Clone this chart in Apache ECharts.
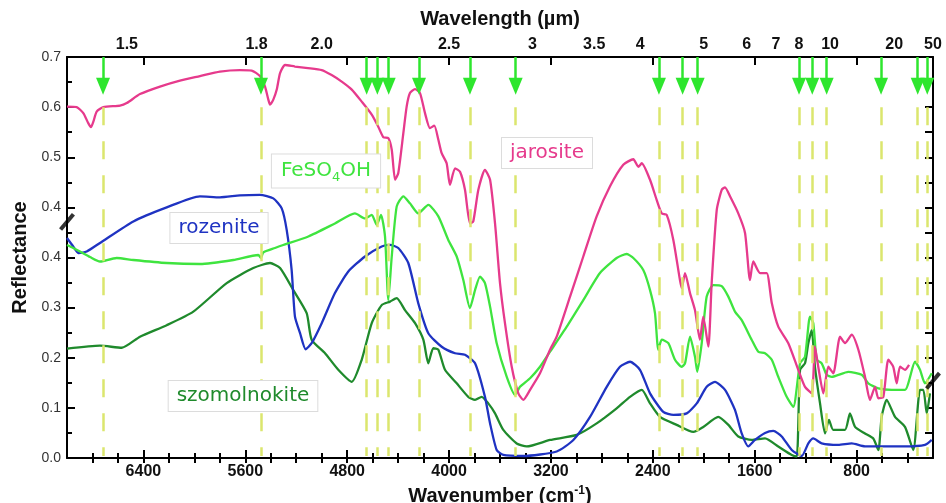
<!DOCTYPE html>
<html>
<head>
<meta charset="utf-8">
<title>Reflectance spectra of iron sulfates</title>
<script src="https://cdn.jsdelivr.net/npm/echarts@6/dist/echarts.min.js"></script>
<style>
  html, body { margin: 0; padding: 0; background: #fff; }
  #chart { width: 946px; height: 503px; }
</style>
</head>
<body>
<div id="chart"></div>
<script>
// ---- Spectra: [wavenumber (cm-1), reflectance in plot units] ----
// Plot units run 0..0.8; the part above the axis break is labelled 0.1 lower.
const jarosite = [
  [7000,0.701],[6924,0.700],[6872,0.688],[6833,0.668],[6812,0.660],[6793,0.671],[6767,0.691],
  [6715,0.700],[6584,0.703],[6531,0.708],[6427,0.726],[6270,0.741],[6113,0.753],[5956,0.762],
  [5799,0.771],[5642,0.774],[5550,0.773],[5485,0.762],[5445,0.741],[5419,0.715],[5406,0.705],
  [5380,0.715],[5353,0.735],[5327,0.768],[5288,0.784],[5210,0.781],[5108,0.778],[5000,0.774],
  [4922,0.764],[4843,0.751],[4764,0.735],[4686,0.711],[4607,0.685],[4556,0.661],[4516,0.640],
  [4477,0.638],[4450,0.615],[4424,0.555],[4399,0.568],[4359,0.648],[4333,0.701],[4307,0.728],
  [4267,0.736],[4228,0.728],[4189,0.688],[4150,0.658],[4116,0.663],[4084,0.635],[4058,0.608],
  [4019,0.588],[3993,0.545],[3953,0.578],[3914,0.571],[3875,0.535],[3836,0.468],[3810,0.472],
  [3770,0.535],[3718,0.575],[3678,0.555],[3639,0.468],[3600,0.349],[3561,0.269],[3508,0.182],
  [3456,0.129],[3417,0.116],[3364,0.136],[3286,0.169],[3207,0.216],[3155,0.242],[3050,0.322],
  [2946,0.402],[2841,0.482],[2736,0.542],[2632,0.585],[2553,0.596],[2514,0.581],[2487,0.588],
  [2422,0.555],[2370,0.515],[2330,0.488],[2291,0.485],[2239,0.435],[2187,0.355],[2173,0.339],
  [2147,0.369],[2108,0.329],[2069,0.295],[2030,0.236],[2004,0.282],[1964,0.222],[1938,0.349],
  [1898,0.495],[1859,0.535],[1833,0.540],[1794,0.522],[1729,0.488],[1676,0.449],[1637,0.355],
  [1611,0.392],[1558,0.369],[1506,0.369],[1466,0.309],[1415,0.262],[1336,0.229],[1258,0.176],
  [1205,0.142],[1152,0.129],[1127,0.222],[1101,0.182],[1061,0.129],[1022,0.182],[983,0.169],
  [930,0.242],[891,0.229],[838,0.246],[786,0.216],[734,0.162],[695,0.116],[655,0.142],
  [629,0.119],[590,0.122],[551,0.196],[512,0.182],[485,0.149],[459,0.182],[420,0.176],[388,0.186]
];

const feso4oh = [
  [7000,0.425],[6951,0.419],[6898,0.412],[6819,0.401],[6741,0.392],[6715,0.393],[6610,0.399],
  [6479,0.395],[6217,0.389],[5956,0.387],[5694,0.395],[5498,0.405],[5477,0.399],[5459,0.410],
  [5367,0.419],[5302,0.425],[5105,0.442],[4896,0.468],[4739,0.488],[4660,0.478],[4607,0.485],
  [4568,0.465],[4534,0.485],[4503,0.442],[4477,0.315],[4450,0.402],[4411,0.502],[4359,0.522],
  [4307,0.508],[4242,0.488],[4163,0.505],[4084,0.482],[4006,0.435],[3940,0.402],[3888,0.355],
  [3836,0.299],[3796,0.335],[3757,0.362],[3718,0.349],[3678,0.302],[3626,0.229],[3547,0.162],
  [3482,0.126],[3443,0.142],[3364,0.159],[3286,0.182],[3207,0.212],[3076,0.262],[2946,0.315],
  [2815,0.369],[2684,0.399],[2605,0.407],[2553,0.399],[2475,0.375],[2422,0.335],[2383,0.289],
  [2357,0.216],[2330,0.236],[2278,0.229],[2226,0.196],[2173,0.182],[2147,0.189],[2108,0.242],
  [2069,0.202],[2051,0.172],[2016,0.229],[1977,0.322],[1925,0.345],[1859,0.343],[1807,0.322],
  [1755,0.292],[1702,0.275],[1624,0.236],[1572,0.212],[1519,0.209],[1466,0.196],[1415,0.162],
  [1349,0.122],[1297,0.102],[1244,0.189],[1205,0.202],[1166,0.282],[1140,0.269],[1113,0.196],
  [1074,0.189],[1035,0.166],[995,0.162],[865,0.172],[760,0.166],[708,0.149],[629,0.139],
  [524,0.136],[420,0.136],[341,0.192],[302,0.176],[263,0.149],[210,0.169]
];

const rozenite = [
  [7000,0.439],[6951,0.422],[6911,0.409],[6845,0.412],[6741,0.429],[6479,0.472],[6217,0.500],
  [5956,0.522],[5799,0.520],[5642,0.524],[5485,0.525],[5380,0.518],[5314,0.498],[5275,0.455],
  [5236,0.375],[5210,0.282],[5170,0.249],[5126,0.217],[5079,0.229],[5000,0.269],[4896,0.329],
  [4791,0.372],[4660,0.402],[4529,0.422],[4464,0.425],[4399,0.419],[4320,0.389],[4242,0.309],
  [4163,0.249],[4058,0.222],[3953,0.209],[3875,0.206],[3796,0.189],[3718,0.122],[3678,0.069],
  [3626,0.016],[3574,0.006],[3417,0.004],[3155,0.013],[3024,0.036],[2893,0.082],[2762,0.142],
  [2658,0.182],[2579,0.192],[2501,0.176],[2422,0.129],[2318,0.092],[2239,0.086],[2134,0.089],
  [2055,0.109],[1977,0.142],[1912,0.152],[1833,0.136],[1755,0.096],[1702,0.049],[1650,0.023],
  [1598,0.036],[1519,0.050],[1454,0.054],[1388,0.043],[1309,0.016],[1231,0.004],[1179,0.029],
  [1140,0.039],[1074,0.029],[944,0.026],[838,0.029],[734,0.023],[577,0.023],[420,0.023],
  [263,0.026],[210,0.036]
];

const szomolnokite = [
  [7000,0.218],[6741,0.224],[6570,0.220],[6427,0.242],[6217,0.265],[6008,0.292],[5746,0.349],
  [5537,0.379],[5406,0.389],[5327,0.379],[5223,0.335],[5118,0.289],[5079,0.236],[4974,0.209],
  [4870,0.176],[4764,0.152],[4686,0.196],[4607,0.269],[4529,0.305],[4464,0.312],[4411,0.319],
  [4346,0.295],[4267,0.269],[4202,0.236],[4163,0.189],[4124,0.219],[4084,0.216],[4032,0.176],
  [3940,0.149],[3849,0.122],[3796,0.116],[3744,0.122],[3692,0.109],[3639,0.089],[3574,0.056],
  [3469,0.029],[3390,0.023],[3207,0.036],[2998,0.046],[2841,0.069],[2684,0.099],[2579,0.122],
  [2487,0.136],[2422,0.109],[2344,0.082],[2213,0.066],[2082,0.052],[2004,0.062],[1886,0.082],
  [1807,0.066],[1729,0.043],[1624,0.036],[1519,0.039],[1415,0.023],[1309,0.006],[1270,0.003],
  [1244,0.176],[1205,0.189],[1179,0.229],[1152,0.255],[1127,0.182],[1087,0.109],[1048,0.049],
  [1017,0.076],[983,0.056],[891,0.056],[852,0.089],[812,0.062],[734,0.049],[669,0.039],
  [629,0.016],[603,0.082],[564,0.116],[498,0.082],[420,0.062],[355,0.016],[302,0.136],
  [276,0.136],[249,0.089],[224,0.129]
];

// Absorption band positions (cm-1) marked by arrows and dashed guides
const bandWavenumbers = [6717, 5477, 4647, 4563, 4474, 4236, 3836, 3477, 2352, 2166, 2048,
                         1252, 1148, 1035, 608, 320, 245];

// Axis ticks and labels
const wavenumberLabels = [6400, 5600, 4800, 4000, 3200, 2400, 1600, 800];
const wavelengthLabels = ['1.5','1.8','2.0','2.5','3','3.5','4','5','6','7','8','10','20','50'];
const wavelengthLabelPos = [6530, 5512, 5000, 4000, 3345, 2860, 2500, 2000, 1662, 1433, 1252, 1008, 505, 200];
const yTickLabels = ['0.0','0.1','0.2','0.3','0.4','0.4','0.5','0.6','0.7'];
// Axis-break markers: [wavenumber, plot value]
const breakMarks = [[7000, 0.471], [200, 0.154]];

const X_MIN = 200, X_MAX = 7000, Y_MAX = 0.8;
const minorX = [];
for (let w = 400; w < X_MAX; w += 200) minorX.push(w);

const AXIS_FONT = '"Liberation Sans", Arial, sans-serif';
const NOTE_FONT = '"DejaVu Sans", Verdana, sans-serif';

const COLORS = {
  jarosite: '#e63a8c',
  feso4oh: '#3fe43f',
  rozenite: '#1f33c2',
  szomolnokite: '#1f8a2c',
  arrow: '#2ee62e',
  guide: '#dbe66e'
};

const chart = echarts.init(document.getElementById('chart'), null, { renderer: 'canvas' });

function xAxisBase(extra) {
  return Object.assign({
    type: 'value', min: X_MIN, max: X_MAX, inverse: true,
    splitLine: { show: false },
    axisLine: { show: true, onZero: false, lineStyle: { color: '#000', width: 2 } }
  }, extra);
}

function curve(name, data, color) {
  return {
    name, type: 'line', data, xAxisIndex: 0, yAxisIndex: 0,
    showSymbol: false, smooth: 0.2, z: 3,
    lineStyle: { color, width: 2.3 }, itemStyle: { color },
    emphasis: { disabled: true }, silent: true
  };
}

function noteBox(text, x, y, color) {
  return {
    type: 'text', x, y, z: 20, silent: true,
    style: {
      text, align: 'center', verticalAlign: 'middle',
      fontFamily: NOTE_FONT, fontSize: 20, fill: color,
      backgroundColor: '#fff', borderColor: '#dcdcdc', borderWidth: 1, padding: [5, 8]
    }
  };
}

const option = {
  animation: false,
  backgroundColor: '#fff',
  grid: { left: 67, right: 13, top: 57, bottom: 45, containLabel: false, outerBoundsMode: 'none' },
  xAxis: [
    // bottom: wavenumber labels with long ticks
    xAxisBase({
      position: 'bottom',
      name: 'Wavenumber (cm{sup|-1})',
      nameLocation: 'middle', nameGap: 24,
      nameTextStyle: {
        fontFamily: AXIS_FONT, fontWeight: 'bold', fontSize: 20, color: '#111',
        rich: { sup: { fontFamily: AXIS_FONT, fontWeight: 'bold', fontSize: 12, verticalAlign: 'top', lineHeight: 24, color: '#111' } }
      },
      axisTick: { show: true, inside: true, length: 8, customValues: wavenumberLabels, lineStyle: { color: '#000', width: 2 } },
      axisLabel: {
        customValues: wavenumberLabels, margin: 6,
        fontFamily: AXIS_FONT, fontWeight: 'bold', fontSize: 16, color: '#111',
        formatter: v => String(Math.round(v))
      }
    }),
    // bottom: minor ticks every 200 cm-1
    xAxisBase({
      position: 'bottom',
      axisLine: { show: false },
      axisTick: { show: true, inside: true, length: 5, customValues: minorX, lineStyle: { color: '#000', width: 2 } },
      axisLabel: { show: false }
    }),
    // top: wavelength labels
    xAxisBase({
      position: 'top',
      name: 'Wavelength (µm)',
      nameLocation: 'middle', nameGap: 28,
      nameTextStyle: { fontFamily: AXIS_FONT, fontWeight: 'bold', fontSize: 20, color: '#111' },
      axisTick: { show: true, inside: true, length: 8, customValues: wavenumberLabels, lineStyle: { color: '#000', width: 2 } },
      axisLabel: {
        customValues: wavelengthLabelPos, margin: 4,
        fontFamily: AXIS_FONT, fontWeight: 'bold', fontSize: 16, color: '#111',
        formatter: v => wavelengthLabels[wavelengthLabelPos.indexOf(v)]
      }
    }),
    // top: minor ticks
    xAxisBase({
      position: 'top',
      axisLine: { show: false },
      axisTick: { show: true, inside: true, length: 5, customValues: minorX, lineStyle: { color: '#000', width: 2 } },
      axisLabel: { show: false }
    })
  ],
  yAxis: [
    {
      type: 'value', min: 0, max: Y_MAX, interval: 0.1, position: 'left',
      name: 'Reflectance', nameLocation: 'middle', nameGap: 36, nameRotate: 90,
      nameTextStyle: { fontFamily: AXIS_FONT, fontWeight: 'bold', fontSize: 20, color: '#111' },
      splitLine: { show: false },
      axisLine: { show: true, onZero: false, lineStyle: { color: '#000', width: 2 } },
      axisTick: { show: true, inside: true, length: 8, lineStyle: { color: '#000', width: 2 } },
      minorTick: { show: true, splitNumber: 2, length: 5, lineStyle: { color: '#000', width: 2 } },
      axisLabel: {
        margin: 6, fontFamily: AXIS_FONT, fontSize: 14, color: '#333',
        showMinLabel: true, showMaxLabel: true,
        formatter: v => yTickLabels[Math.round(v * 10)]
      }
    },
    {
      type: 'value', min: 0, max: Y_MAX, interval: 0.05, position: 'right',
      splitLine: { show: false },
      axisLine: { show: true, onZero: false, lineStyle: { color: '#000', width: 2 } },
      axisTick: { show: true, inside: true, length: 8, lineStyle: { color: '#000', width: 2 } },
      axisLabel: { show: false }
    }
  ],
  series: [
    {
      name: 'guides', type: 'line', data: [], xAxisIndex: 0, yAxisIndex: 0, z: 1, silent: true,
      markLine: {
        silent: true, symbol: ['none', 'none'], animation: false,
        label: { show: false }, emphasis: { disabled: true },
        lineStyle: { color: COLORS.guide, width: 2.5, type: [18, 16] },
        data: bandWavenumbers.map(w => [{ coord: [w, 0.7] }, { coord: [w, 0.004] }])
      }
    },
    {
      name: 'arrows', type: 'line', data: [], xAxisIndex: 0, yAxisIndex: 0, z: 4, silent: true,
      markLine: {
        silent: true, symbol: ['none', 'none'], animation: false,
        label: { show: false }, emphasis: { disabled: true },
        lineStyle: { color: COLORS.arrow, width: 2.5, type: 'solid' },
        data: bandWavenumbers.map(w => [{ coord: [w, Y_MAX] }, { coord: [w, 0.745] }])
      },
      markPoint: {
        silent: true, animation: false, symbol: 'triangle', symbolRotate: 180, symbolSize: [14, 17],
        label: { show: false }, itemStyle: { color: COLORS.arrow },
        data: bandWavenumbers.map(w => ({ coord: [w, 0.7415] }))
      }
    },
    curve('szomolnokite', szomolnokite, COLORS.szomolnokite),
    curve('rozenite', rozenite, COLORS.rozenite),
    curve('FeSO4OH', feso4oh, COLORS.feso4oh),
    curve('jarosite', jarosite, COLORS.jarosite),
    {
      name: 'axis break', type: 'scatter', data: breakMarks, xAxisIndex: 0, yAxisIndex: 0,
      symbol: 'rect', symbolSize: [20, 4], symbolRotate: 50, clip: false, z: 10, silent: true,
      itemStyle: { color: '#000' }
    }
  ],
  graphic: [
    noteBox('jarosite', 547, 153, COLORS.jarosite),
    noteBox('rozenite', 219, 228, COLORS.rozenite),
    noteBox('szomolnokite', 243, 396, COLORS.szomolnokite),
    {
      type: 'text', x: 326, y: 171, z: 20, silent: true,
      style: {
        text: '{n|FeSO}{s|4}{n|OH}', align: 'center', verticalAlign: 'middle',
        backgroundColor: '#fff', borderColor: '#dcdcdc', borderWidth: 1, padding: [3, 9],
        rich: {
          n: { fontFamily: NOTE_FONT, fontSize: 20, fill: COLORS.feso4oh, verticalAlign: 'middle', lineHeight: 27 },
          s: { fontFamily: NOTE_FONT, fontSize: 13, fill: COLORS.feso4oh, verticalAlign: 'bottom', lineHeight: 27 }
        }
      }
    }
  ]
};

chart.setOption(option);
</script>
</body>
</html>
